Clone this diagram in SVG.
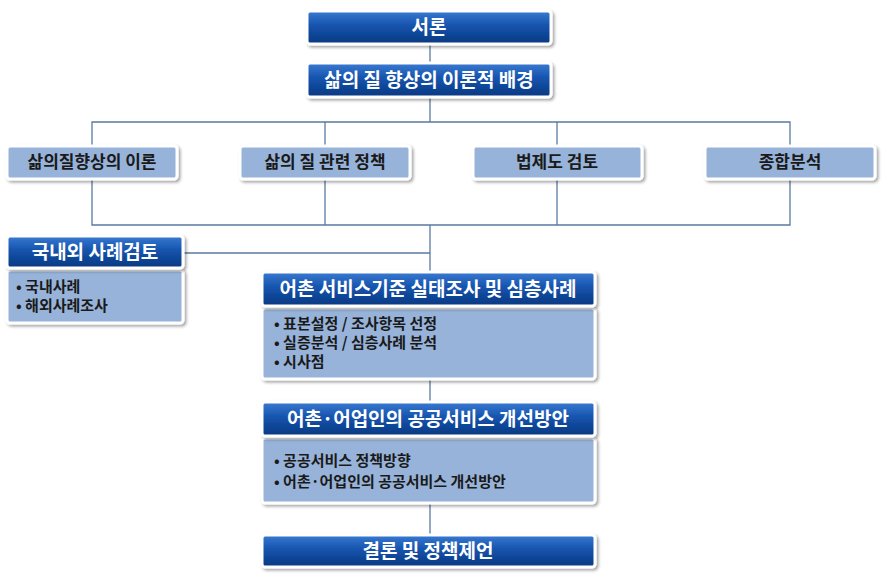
<svg xmlns="http://www.w3.org/2000/svg" width="890" height="579" viewBox="0 0 890 579">
<defs>
<linearGradient id="hdr" x1="0" y1="0" x2="0" y2="1">
<stop offset="0" stop-color="#3a7ad2"/>
<stop offset="0.45" stop-color="#1553ad"/>
<stop offset="1" stop-color="#0a3880"/>
</linearGradient>
<filter id="sh" x="-10%" y="-20%" width="125%" height="160%">
<feDropShadow dx="2" dy="2" stdDeviation="1.6" flood-color="#000" flood-opacity="0.35"/>
</filter>
<style>
.hd{fill:url(#hdr);stroke:#fff;stroke-width:3;filter:url(#sh)}
.lt{fill:#97b3d9;stroke:#fff;stroke-width:3;filter:url(#sh)}
.ln{fill:none;stroke:#5a7aa0;stroke-width:1.3}
text{font-family:"Noto Sans CJK KR","Noto Sans",sans-serif;font-weight:bold}
.wt{fill:#fff;font-size:19px;text-anchor:middle}
.dt{fill:#1a1a1a;font-size:17px;text-anchor:middle}
.bt{fill:#1a1a1a;font-size:15px}
</style>
</defs>
<g id="connectors">
<line class="ln" x1="430" y1="44" x2="430" y2="122"/>
<polyline class="ln" points="92,146 92,122 790,122 790,146"/>
<line class="ln" x1="325" y1="122" x2="325" y2="146"/>
<line class="ln" x1="557" y1="122" x2="557" y2="146"/>
<polyline class="ln" points="92,179 92,225 790,225 790,179"/>
<line class="ln" x1="325" y1="179" x2="325" y2="225"/>
<line class="ln" x1="557" y1="179" x2="557" y2="225"/>
<line class="ln" x1="430" y1="225" x2="430" y2="272"/>
<line class="ln" x1="184" y1="253" x2="430" y2="253"/>
<line class="ln" x1="430" y1="378" x2="430" y2="402"/>
<line class="ln" x1="430" y1="503" x2="430" y2="535"/>
</g>
<g id="n-intro">
<rect class="hd" x="307" y="11" width="244" height="33" rx="3"/>
<text class="wt" x="429" y="34">서론</text>
</g>
<g id="n-background">
<rect class="hd" x="307" y="63" width="244" height="34" rx="3"/>
<text class="wt" x="429" y="87">삶의 질 향상의 이론적 배경</text>
</g>
<g id="n-theory">
<rect class="lt" x="7" y="146" width="170" height="33" rx="3"/>
<text class="dt" x="92" y="168">삶의질향상의 이론</text>
</g>
<g id="n-policy">
<rect class="lt" x="240" y="146" width="170" height="33" rx="3"/>
<text class="dt" x="325" y="168">삶의 질 관련 정책</text>
</g>
<g id="n-law">
<rect class="lt" x="473" y="146" width="169" height="33" rx="3"/>
<text class="dt" x="557" y="168">법제도 검토</text>
</g>
<g id="n-synth">
<rect class="lt" x="705" y="146" width="170" height="33" rx="3"/>
<text class="dt" x="790" y="168">종합분석</text>
</g>
<g id="n-cases">
<rect class="lt" x="7" y="270" width="176" height="53" rx="3"/>
<rect class="hd" x="7" y="236" width="176" height="32" rx="3"/>
<text class="wt" x="95" y="259">국내외 사례검토</text>
<text class="bt" x="16" y="292">• 국내사례</text>
<text class="bt" x="16" y="311">• 해외사례조사</text>
</g>
<g id="n-survey">
<rect class="lt" x="262" y="308" width="333" height="71" rx="3"/>
<rect class="hd" x="262" y="272" width="333" height="34" rx="3"/>
<text class="wt" x="428" y="296">어촌 서비스기준 실태조사 및 심층사례</text>
<text class="bt" x="274" y="329">• 표본설정 / 조사항목 선정</text>
<text class="bt" x="274" y="348">• 실증분석 / 심층사례 분석</text>
<text class="bt" x="274" y="367">• 시사점</text>
</g>
<g id="n-improve">
<rect class="lt" x="262" y="438" width="333" height="65" rx="3"/>
<rect class="hd" x="262" y="402" width="333" height="34" rx="3"/>
<text class="wt" x="428" y="426">어촌·어업인의 공공서비스 개선방안</text>
<text class="bt" x="274" y="466">• 공공서비스 정책방향</text>
<text class="bt" x="274" y="487">• 어촌·어업인의 공공서비스 개선방안</text>
</g>
<g id="n-conclusion">
<rect class="hd" x="262" y="535" width="333" height="32" rx="3"/>
<text class="wt" x="428" y="558">결론 및 정책제언</text>
</g>
</svg>
